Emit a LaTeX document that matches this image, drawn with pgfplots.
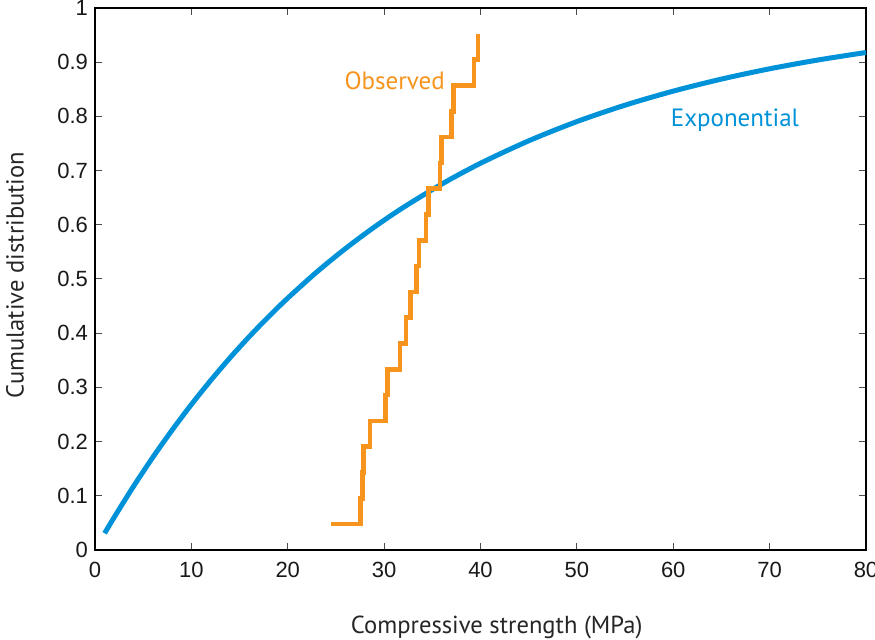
\documentclass[border=0pt]{standalone}
\usepackage{fontspec}
\setmainfont{Liberation Sans}
\newfontfamily\labfont{PT Sans}
\usepackage{pgfplots}
\pgfplotsset{compat=1.18}
\definecolor{expblue}{RGB}{0,146,216}
\definecolor{obsorange}{RGB}{247,148,30}
\begin{document}
\begin{tikzpicture}
\begin{axis}[
  at={(0,0)}, anchor=south west,
  scale only axis,
  width=385.5pt, height=271pt,
  xmin=0, xmax=80, ymin=0, ymax=1,
  xtick={0,10,20,30,40,50,60,70,80},
  xticklabels={0,10,20,30,40,50,60,70,80},
  ytick={0,0.1,0.2,0.3,0.4,0.5,0.6,0.7,0.8,0.9,1},
  yticklabels={0,0.1,0.2,0.3,0.4,0.5,0.6,0.7,0.8,0.9,1},
  tick align=inside,
  tick pos=both,
  major tick length=3.5pt,
  tick style={black!70, line width=0.5pt},
  axis line style={black, line width=0.6pt},
  ticklabel style={font=\fontsize{11}{13}\selectfont, black!90},
  xticklabel style={yshift=-2.5pt},
  xlabel={Compressive strength (MPa)},
  ylabel={Cumulative distribution},
  xlabel style={font=\labfont\fontsize{12.3}{14}\selectfont, color=black!85, at={(axis description cs:0.521,-0.142)}, anchor=center},
  ylabel style={font=\labfont\fontsize{12.3}{14}\selectfont, color=black!85, at={(axis description cs:-0.1038,0.507)}, anchor=center, rotate=0},
  clip=false,
]
\addplot[color=expblue, line width=2.5pt, smooth] coordinates {
(1,0.0308) (2,0.0606) (4,0.1175) (6,0.1710) (8,0.2212) (10,0.2684)
(12,0.3127) (14,0.3544) (16,0.3935) (18,0.4302) (20,0.4647)
(23,0.5127) (26,0.5563) (29,0.5960) (32,0.6321) (36,0.6753)
(40,0.7135) (45,0.7549) (50,0.7904) (55,0.8207) (60,0.8466)
(65,0.8688) (70,0.8878) (75,0.9040) (80,0.9179)
};
\addplot[color=obsorange, line width=2.3pt, const plot mark left, line join=miter] coordinates {
(24.48,0.0476) (27.56,0.0952) (27.73,0.1429) (27.87,0.1905) (28.53,0.2381)
(30.16,0.2857) (30.36,0.3333) (31.64,0.3810) (32.26,0.4286) (32.75,0.4762)
(33.37,0.5238) (33.61,0.5714) (34.34,0.6190) (34.63,0.6667) (35.79,0.7143)
(35.94,0.7619) (37.00,0.8095) (37.17,0.8571) (39.32,0.9048) (39.76,0.9524)
};
\node[anchor=base, color=obsorange, font=\labfont\fontsize{12.5}{14}\selectfont, inner sep=0pt] at (axis cs:31.1,0.849) {Observed};
\node[anchor=base, color=expblue, font=\labfont\fontsize{12.5}{14}\selectfont, inner sep=0pt] at (axis cs:66.4,0.782) {Exponential};
\end{axis}
\pgfresetboundingbox
\path (-47.5pt,-45pt) rectangle (390pt,275pt);
\end{tikzpicture}
\end{document}
